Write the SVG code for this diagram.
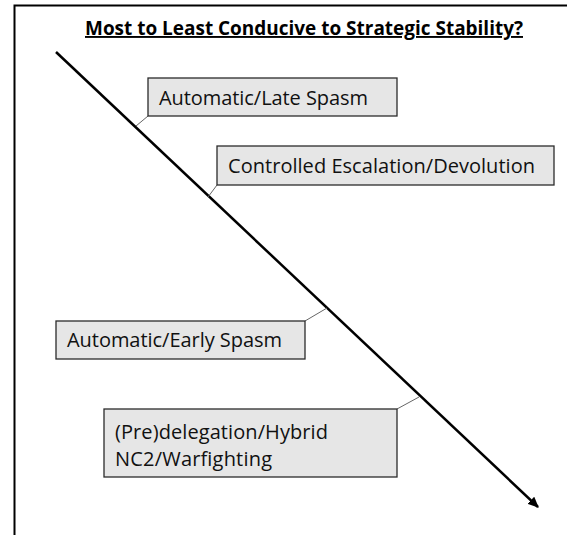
<svg xmlns="http://www.w3.org/2000/svg" width="567" height="535" viewBox="0 0 567 535">
<defs>
<style>
.frame{fill:none;stroke:#000;stroke-width:2}
.box rect{fill:#e6e6e6;stroke:#2b2b2b;stroke-width:1.3}
.box text{font-family:"Open Sans","Liberation Sans",sans-serif;font-size:20px;fill:#111}
.title{font-family:"Open Sans","Liberation Sans",sans-serif;font-size:19px;font-weight:bold;fill:#000;text-decoration:underline}
.axis{stroke:#000;stroke-width:2.5;fill:none}
.leader{stroke:#666;stroke-width:1;fill:none}
</style>
<marker id="arrow" markerUnits="userSpaceOnUse" markerWidth="12" markerHeight="10" refX="9" refY="4.5" orient="auto" viewBox="0 0 11 9">
<path d="M0,0 L10,4.5 L0,9 Z" fill="#000"/>
</marker>
</defs>
<rect width="567" height="535" fill="#fff"/>
<path class="frame" d="M14.5,535 L14.5,5.5 L567,5.5"/>
<text class="title" x="85" y="35" textLength="438" lengthAdjust="spacingAndGlyphs">Most to Least Conducive to Strategic Stability?</text>
<g id="connectors">
<line class="axis" x1="56" y1="52" x2="538" y2="507" marker-end="url(#arrow)"/>
<line class="leader" x1="148" y1="116" x2="136" y2="126"/>
<line class="leader" x1="217" y1="185" x2="208" y2="197"/>
<line class="leader" x1="305" y1="321" x2="327" y2="308"/>
<line class="leader" x1="397" y1="409" x2="419" y2="397"/>
</g>
<g id="n1" class="box">
<rect x="148" y="78" width="249" height="38"/>
<text x="159" y="105" textLength="209">Automatic/Late Spasm</text>
</g>
<g id="n2" class="box">
<rect x="217" y="146" width="337" height="39"/>
<text x="228" y="173" textLength="307">Controlled Escalation/Devolution</text>
</g>
<g id="n3" class="box">
<rect x="56" y="321" width="249" height="38"/>
<text x="67" y="347" textLength="215">Automatic/Early Spasm</text>
</g>
<g id="n4" class="box">
<rect x="104" y="409" width="293" height="68"/>
<text x="115" y="439" textLength="213">(Pre)delegation/Hybrid</text>
<text x="115" y="466" textLength="157">NC2/Warfighting</text>
</g>
</svg>
